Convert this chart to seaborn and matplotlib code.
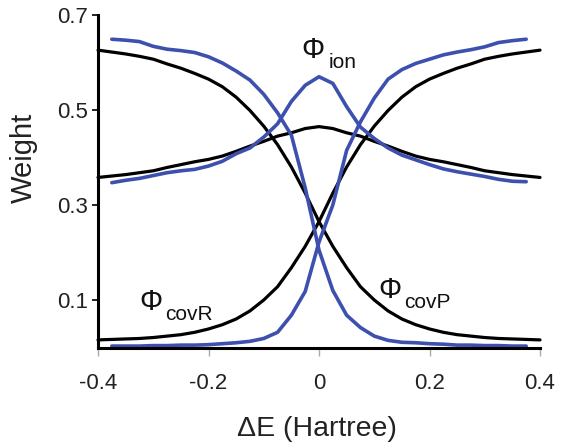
import matplotlib
matplotlib.use('Agg')
import matplotlib.pyplot as plt
import seaborn as sns
import pandas as pd

# black curves (smooth model), step 0.025
x_black = [-0.4, -0.375, -0.35, -0.325, -0.3, -0.275, -0.25, -0.225, -0.2, -0.175, -0.15, -0.125, -0.1,
           -0.075, -0.05, -0.025, 0.0, 0.025, 0.05, 0.075, 0.1, 0.125, 0.15, 0.175, 0.2, 0.225, 0.25,
           0.275, 0.3, 0.325, 0.35, 0.375, 0.4]
covR_black = [0.626, 0.622, 0.618, 0.613, 0.607, 0.597, 0.588, 0.577, 0.565, 0.549, 0.527, 0.499, 0.466,
              0.427, 0.380, 0.325, 0.265, 0.213, 0.168, 0.128, 0.100, 0.077, 0.060, 0.048, 0.039, 0.032,
              0.027, 0.024, 0.021, 0.019, 0.018, 0.017, 0.016]
covP_black = [0.016, 0.017, 0.018, 0.019, 0.021, 0.024, 0.027, 0.032, 0.039, 0.048, 0.060, 0.077, 0.100,
              0.128, 0.168, 0.213, 0.265, 0.325, 0.380, 0.427, 0.466, 0.499, 0.527, 0.549, 0.565, 0.577,
              0.588, 0.597, 0.607, 0.613, 0.618, 0.622, 0.626]
ion_black = [0.358, 0.361, 0.364, 0.368, 0.372, 0.379, 0.385, 0.391, 0.396, 0.403, 0.413, 0.424, 0.434,
             0.445, 0.452, 0.461, 0.465, 0.461, 0.452, 0.445, 0.434, 0.424, 0.413, 0.403, 0.396, 0.391,
             0.385, 0.379, 0.372, 0.368, 0.364, 0.361, 0.358]

# blue curves (computed points)
x_blue = [-0.375, -0.35, -0.325, -0.3, -0.275, -0.25, -0.225, -0.2, -0.175, -0.15, -0.125, -0.1, -0.075,
          -0.05, -0.025, 0.0, 0.025, 0.05, 0.075, 0.1, 0.125, 0.15, 0.175, 0.2, 0.225, 0.25, 0.275, 0.3,
          0.325, 0.35, 0.375]
covR_blue = [0.649, 0.647, 0.644, 0.634, 0.628, 0.625, 0.621, 0.612, 0.599, 0.582, 0.563, 0.533, 0.494,
             0.447, 0.336, 0.205, 0.120, 0.068, 0.042, 0.024, 0.015, 0.011, 0.010, 0.008, 0.007, 0.005,
             0.005, 0.004, 0.004, 0.003, 0.003]
covP_blue = [0.003, 0.003, 0.003, 0.004, 0.004, 0.005, 0.005, 0.006, 0.008, 0.010, 0.013, 0.019, 0.032,
             0.068, 0.118, 0.222, 0.300, 0.415, 0.475, 0.525, 0.565, 0.585, 0.598, 0.607, 0.616, 0.622,
             0.627, 0.633, 0.642, 0.646, 0.649]
ion_blue = [0.347, 0.352, 0.356, 0.362, 0.368, 0.372, 0.375, 0.382, 0.392, 0.408, 0.420, 0.443, 0.471,
            0.518, 0.552, 0.570, 0.556, 0.507, 0.464, 0.440, 0.420, 0.405, 0.395, 0.385, 0.376, 0.370,
            0.365, 0.360, 0.354, 0.350, 0.349]

x_ticks = [-0.4, -0.2, 0, 0.2, 0.4]
x_tick_labels = ['-0.4', '-0.2', '0', '0.2', '0.4']
y_ticks = [0.1, 0.3, 0.5, 0.7]
y_tick_labels = ['0.1', '0.3', '0.5', '0.7']

sns.set_style('ticks')
plt.rcParams['font.family'] = ['Liberation Sans', 'DejaVu Sans']

black_df = pd.DataFrame({'x': x_black, 'covR': covR_black, 'covP': covP_black, 'ion': ion_black})
blue_df = pd.DataFrame({'x': x_blue, 'covR': covR_blue, 'covP': covP_blue, 'ion': ion_blue})

fig = plt.figure(figsize=(5.61, 4.45), dpi=100)
ax = fig.add_axes([0.1747, 0.2191, 0.7879, 0.7472])

blue = '#3d50ae'
for col in ['covR', 'covP', 'ion']:
    sns.lineplot(data=black_df, x='x', y=col, ax=ax, color='black', linewidth=2.3, clip_on=False)
for col in ['covR', 'covP', 'ion']:
    sns.lineplot(data=blue_df, x='x', y=col, ax=ax, color=blue, linewidth=2.6, clip_on=False)

ax.set_xlim(-0.4, 0.4)
ax.set_ylim(0, 0.7)
ax.set_xticks(x_ticks)
ax.set_xticklabels(x_tick_labels)
ax.set_yticks(y_ticks)
ax.set_yticklabels(y_tick_labels)
ax.tick_params(axis='x', length=6, width=1, color='#aaaaaa', pad=12, labelsize=16, labelcolor='#222222')
ax.tick_params(axis='y', length=4, width=1.2, color='black', pad=3, labelsize=16, labelcolor='#222222')
sns.despine(ax=ax)
for s in ['left', 'bottom']:
    ax.spines[s].set_linewidth(2.2)
    ax.spines[s].set_color('black')

ax.set_xlabel('ΔE (Hartree)', fontsize=20.5, color='#222222')
ax.set_ylabel('Weight', fontsize=21, color='#222222')
ax.xaxis.set_label_coords(0.495, -0.205)
ax.yaxis.set_label_coords(-0.135, 0.57)

# curve labels
lab = dict(color='#111111', va='baseline')
ax.text(-0.011, 0.609, 'Φ', fontsize=21, ha='center', **lab)
ax.text(0.018, 0.588, 'ion', fontsize=15, ha='left', **lab)
ax.text(-0.304, 0.079, 'Φ', fontsize=21, ha='center', **lab)
ax.text(-0.278, 0.058, 'covR', fontsize=15, ha='left', **lab)
ax.text(0.128, 0.105, 'Φ', fontsize=21, ha='center', **lab)
ax.text(0.154, 0.083, 'covP', fontsize=15, ha='left', **lab)

fig.savefig('out.png', dpi=100)
